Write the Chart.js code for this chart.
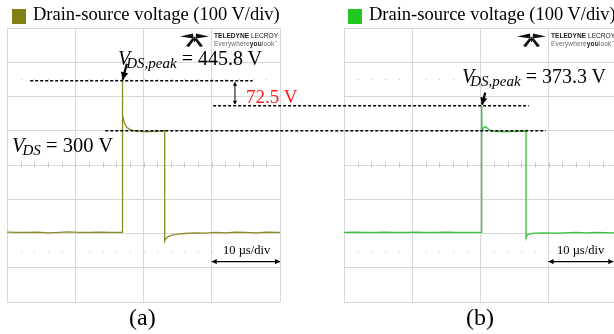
<!DOCTYPE html>
<html>
<head>
<meta charset="utf-8">
<script src="https://cdn.jsdelivr.net/npm/chart.js@4.4.1/dist/chart.umd.min.js"></script>
<style>
  html, body { margin: 0; padding: 0; background: #fff; }
  body { width: 614px; height: 334px; overflow: hidden; position: relative;
         font-family: 'Liberation Serif', 'Times New Roman', serif; color: #000; }
  canvas { position: absolute; left: 0; top: 0; }
  .t { position: absolute; white-space: nowrap; line-height: 1; }
  .sq { position: absolute; width: 14px; height: 15px; }
  .sub { font-size: 15px; font-style: italic; position: relative; top: 3px; margin-left: -4px; }
  .logo1 { position: absolute; font-family: 'Liberation Sans', Arial, sans-serif; font-size: 6.6px;
           line-height: 1; white-space: nowrap; color: #222; }
  .logo2 { position: absolute; font-family: 'Liberation Sans', Arial, sans-serif; font-size: 6.5px;
           line-height: 1; white-space: nowrap; color: #666; letter-spacing: 0.15px; }
  svg { position: absolute; left: 0; top: 0; }
</style>
</head>
<body>
<canvas id="chartA" width="614" height="334"></canvas>
<canvas id="chartB" width="614" height="334"></canvas>

<svg width="614" height="334">
  <g id="logoA" transform="translate(180,33)"></g>
  <g id="logoB" transform="translate(517,33)"></g>
</svg>

<div class="sq" style="left:12px; top:9px; background:#808014;"></div>
<div class="t" style="left:33px; top:5px; font-size:18.5px;">Drain-source voltage (100 V/div)</div>
<div class="sq" style="left:348px; top:9px; background:#20c820;"></div>
<div class="t" style="left:369px; top:5px; font-size:18.5px;">Drain-source voltage (100 V/div)</div>

<div class="logo1" style="left:214px; top:33px;"><b>TELEDYNE</b> LECROY</div>
<div class="logo2" style="left:214px; top:40.5px;">Everywhere<b style="color:#222">you</b>look<sup style="font-size:3px">™</sup></div>
<div class="logo1" style="left:551px; top:33px;"><b>TELEDYNE</b> LECROY</div>
<div class="logo2" style="left:551px; top:40.5px;">Everywhere<b style="color:#222">you</b>look<sup style="font-size:3px">™</sup></div>

<div class="t" style="left:118px; top:48px; font-size:20px;"><i>V</i><span class="sub">DS,peak</span> = 445.8 V</div>
<div class="t" style="left:462px; top:66px; font-size:20px;"><i>V</i><span class="sub">DS,peak</span> = 373.3 V</div>
<div class="t" style="left:12px; top:135px; font-size:20.5px;"><i>V</i><span class="sub" style="margin-left:-2px">DS</span> = 300 V</div>
<div class="t" style="left:246px; top:87px; font-size:19px; color:#ff1a1a;">72.5 V</div>
<div class="t" style="left:223px; top:244px; font-size:12.5px;">10 µs/div</div>
<div class="t" style="left:557px; top:244px; font-size:12.5px;">10 µs/div</div>
<div class="t" style="left:129px; top:305px; font-size:24px;">(a)</div>
<div class="t" style="left:466px; top:305px; font-size:24px;">(b)</div>

<script>
// time in µs, voltage in V
const timeA = [0, 1.5, 3, 4.5, 6, 7.5, 9, 10.5, 12, 13.5, 15, 16.9, 16.9, 16.95, 17.1, 17.3, 17.6, 18, 18.6, 19.5, 20.5, 21.5, 22.5, 23.1, 23.1, 23.25, 23.6, 24.2, 25, 26, 27.5, 29, 30.5, 32, 33.5, 35, 36.5, 38, 40];
const voltA = [4, 3, 3, 4, 2, 3, 5, 3, 3, 4, 3, 3, 445.8, 348, 330, 318, 309, 304, 300, 298, 297, 298, 299, 300, -22, -15, -9, -5, -2, 0, 2, 1, 3, 2, 4, 3, 2, 4, 3];
const timeB = [0, 1.5, 3, 4.5, 6, 7.5, 9, 10.5, 12, 13.5, 15, 16.5, 18, 20.2, 20.2, 20.25, 20.45, 20.75, 21.1, 21.6, 22.5, 23.5, 24.5, 25.5, 26.7, 26.7, 26.85, 27.2, 28, 29.5, 31, 32.5, 34, 35.5, 37, 39.6];
const voltB = [3, 4, 3, 3, 4, 3, 3, 4, 3, 3, 4, 3, 3, 3, 373.3, 301, 308, 312, 306, 299, 298, 297, 298, 298, 299, -13, -5, -1, 1, 2, 1, 2, 3, 2, 3, 2];
const peakA = 445.8, peakB = 373.3, dcLevel = 300;
const yMin = -200, yMax = 600, yStep = 100;
const xStep = 10, xMaxA = 40, xMaxB = 39.6;

function dashed(ctx, x1, x2, y) {
  ctx.save();
  ctx.strokeStyle = '#000';
  ctx.lineWidth = 1.5;
  ctx.setLineDash([3, 2]);
  ctx.beginPath();
  ctx.moveTo(x1, y); ctx.lineTo(x2, y);
  ctx.stroke();
  ctx.restore();
}

function head(ctx, x1, y1, x2, y2, len, w) {
  const a = Math.atan2(y2 - y1, x2 - x1);
  ctx.beginPath();
  ctx.moveTo(x2, y2);
  ctx.lineTo(x2 - len * Math.cos(a) + w * Math.sin(a), y2 - len * Math.sin(a) - w * Math.cos(a));
  ctx.lineTo(x2 - len * Math.cos(a) - w * Math.sin(a), y2 - len * Math.sin(a) + w * Math.cos(a));
  ctx.closePath();
  ctx.fill();
}

function arrow(ctx, x1, y1, x2, y2, lw, len, w, both) {
  ctx.save();
  ctx.strokeStyle = '#000'; ctx.fillStyle = '#000';
  ctx.lineWidth = lw;
  ctx.beginPath();
  ctx.moveTo(x1, y1); ctx.lineTo(x2, y2);
  ctx.stroke();
  head(ctx, x1, y1, x2, y2, len, w);
  if (both) head(ctx, x2, y2, x1, y1, len, w);
  ctx.restore();
}

// small scope marks: ticks on the centre line and dotted rows
function scopeDots(chart) {
  const ctx = chart.ctx, xs = chart.scales.x, ys = chart.scales.y;
  const yc = ys.getPixelForValue(200);
  ctx.save();
  ctx.strokeStyle = '#c4c4c4';
  ctx.fillStyle = '#c8c8c8';
  ctx.lineWidth = 1;
  for (let t = 2; t < xs.max; t += 2) {
    const x = Math.round(xs.getPixelForValue(t)) + 0.5;
    ctx.beginPath(); ctx.moveTo(x, yc - 2.5); ctx.lineTo(x, yc + 2.5); ctx.stroke();
    [450, -50].forEach(v => ctx.fillRect(x - 0.5, Math.round(ys.getPixelForValue(v)), 1, 1));
  }
  ctx.restore();
}

function scopeChart(id, time, volt, color, xMax, pad, draw) {
  return new Chart(document.getElementById(id), {
    type: 'line',
    data: {
      datasets: [{
        data: time.map((t, i) => ({ x: t, y: volt[i] })),
        borderColor: color,
        borderWidth: 1.3,
        pointRadius: 0,
        tension: 0
      }]
    },
    options: {
      responsive: false,
      animation: false,
      events: [],
      layout: { padding: pad },
      plugins: { legend: { display: false }, tooltip: { enabled: false } },
      scales: {
        x: {
          type: 'linear', min: 0, max: xMax,
          ticks: { display: false, stepSize: xStep },
          grid: { color: '#d8d8d8', drawTicks: false },
          border: { display: false },
          afterFit: s => { s.height = 0; }
        },
        y: {
          min: yMin, max: yMax,
          ticks: { display: false, stepSize: yStep },
          grid: { color: '#d8d8d8', drawTicks: false },
          border: { display: false },
          afterFit: s => { s.width = 0; }
        }
      }
    },
    plugins: [{ id: 'scopeMarks', beforeDatasetsDraw: scopeDots, afterDraw: draw }]
  });
}

const chartA = scopeChart('chartA', timeA, voltA, '#8e8c26', xMaxA,
  { left: 7, top: 28, right: 334, bottom: 32 },
  chart => {
    const ctx = chart.ctx, xs = chart.scales.x, ys = chart.scales.y;
    dashed(ctx, xs.getPixelForValue(3.4), xs.getPixelForValue(36.0), ys.getPixelForValue(peakA));
    const tx = xs.getPixelForValue(16.9), ty = ys.getPixelForValue(peakA);
    arrow(ctx, tx + 4.5, ty - 17, tx + 0.3, ty - 1, 2.2, 7.5, 3.8, false);
    const ax = xs.getPixelForValue(33.4);
    arrow(ctx, ax, ys.getPixelForValue(peakA) + 1.5, ax, ys.getPixelForValue(peakB) - 1.5, 1, 3.5, 2.2, true);
    const yd = ys.getPixelForValue(-82);
    arrow(ctx, xs.getPixelForValue(30), yd, xs.getPixelForValue(40), yd, 1.3, 5, 2.6, true);
  });

const chartB = scopeChart('chartB', timeB, voltB, '#38c238', xMaxB,
  { left: 344, top: 28, right: 0, bottom: 32 },
  chart => {
    const ctx = chart.ctx, xs = chart.scales.x, ys = chart.scales.y, xa = chartA.scales.x;
    dashed(ctx, xa.getPixelForValue(30.2), xs.getPixelForValue(27.1), ys.getPixelForValue(peakB));
    dashed(ctx, xa.getPixelForValue(14.4), xs.getPixelForValue(29.6), ys.getPixelForValue(dcLevel));
    const tx = xs.getPixelForValue(20.2), ty = ys.getPixelForValue(peakB);
    arrow(ctx, tx + 3.5, ty - 13, tx + 0.3, ty - 1, 2.2, 7, 3.6, false);
    const yd = ys.getPixelForValue(-82);
    arrow(ctx, xs.getPixelForValue(30), yd, xs.getPixelForValue(39.5), yd, 1.3, 5, 2.6, true);
  });

// oscilloscope maker logo mark
function logoMark(id) {
  const g = document.getElementById(id);
  const shapes = [
    '0,3.5 13,0.5 13.5,5.5',
    '29,3.5 16,0.5 15.5,5.5',
    '12.5,5 14.5,6.5 9,14 6,13',
    '16.5,5 14.5,6.5 20,14 23,13',
    '13.5,4 15.5,4 15,9 14,9'
  ];
  shapes.forEach(p => {
    const el = document.createElementNS('http://www.w3.org/2000/svg', 'polygon');
    el.setAttribute('points', p);
    el.setAttribute('fill', '#111');
    g.appendChild(el);
  });
}
logoMark('logoA');
logoMark('logoB');
</script>
</body>
</html>
